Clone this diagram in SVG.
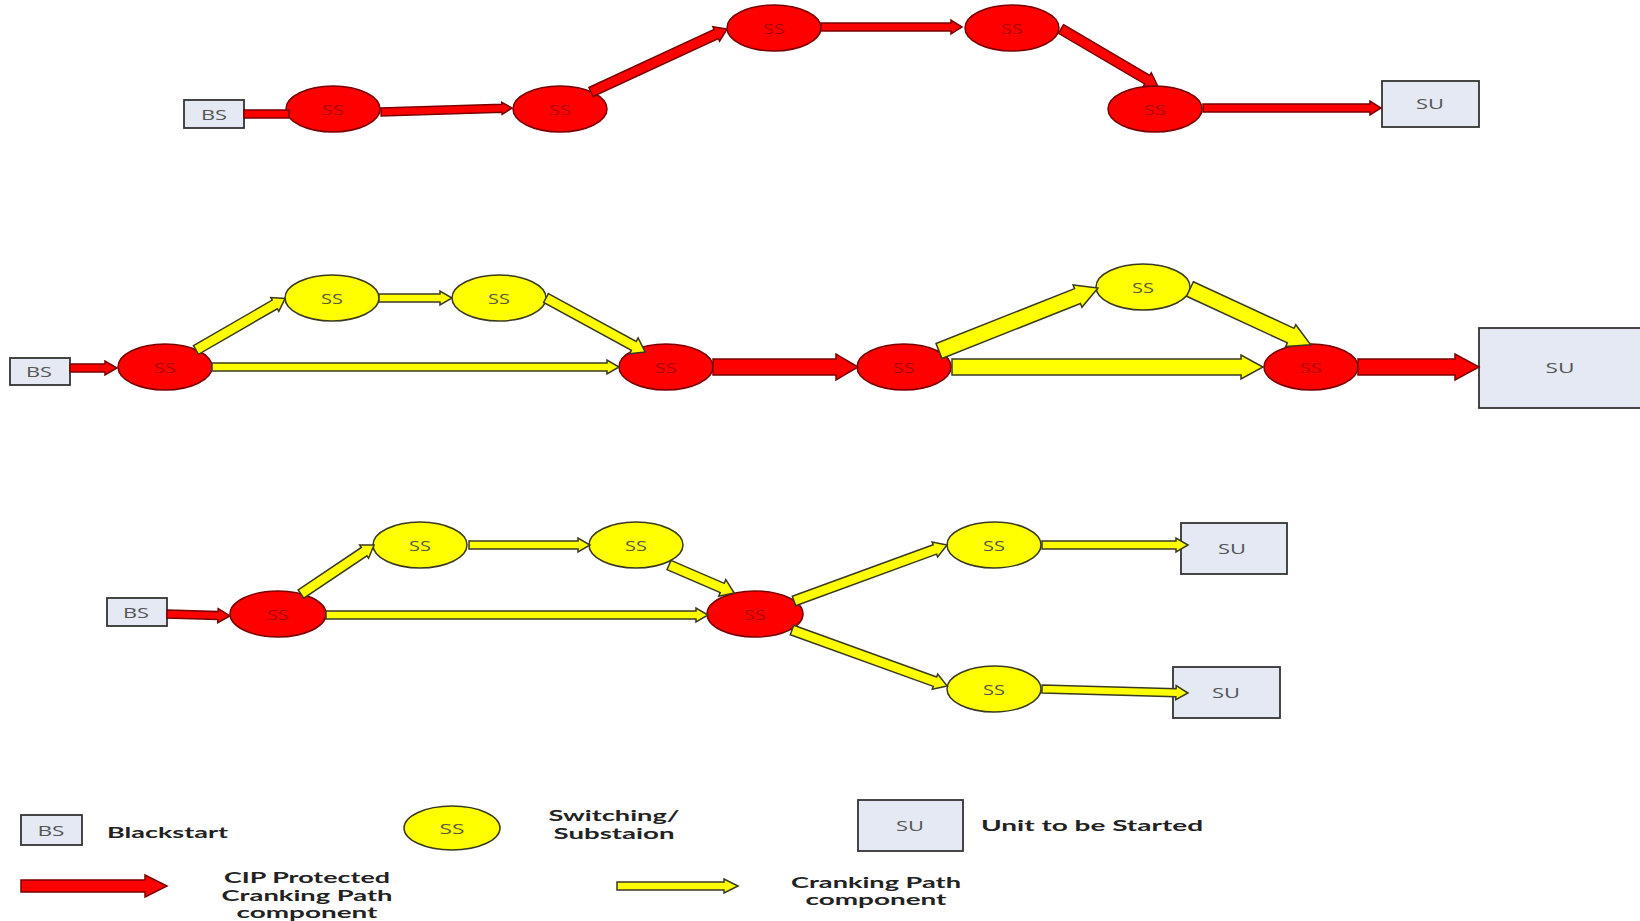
<svg xmlns="http://www.w3.org/2000/svg" width="1640" height="921" viewBox="0 0 1640 921">
  <style>
    .red { fill: #ff0000; stroke: #7a0000; stroke-width: 1.5; }
    .yel { fill: #ffff00; stroke: #3a3a20; stroke-width: 1.5; }
    .box { fill: #e4e9f3; stroke: #333333; stroke-width: 1.8; }
    .lbl { font-family: "Open Sans", "Liberation Sans", sans-serif; font-size: 15px; text-anchor: middle; dominant-baseline: central; }
    .lr { fill: #b00000; }
    .ly { fill: #5a5a3c; }
    .lb { fill: #555555; }
    .leg { font-family: Lato, "Liberation Sans", sans-serif; font-weight: bold; font-size: 16px; fill: #222222; }
    .mid { text-anchor: middle; }
  </style>

  <!-- top path nodes -->
  <g id="t-bs"><rect class="box" x="184" y="100" width="60" height="28"/><text class="lbl lb" x="214" y="114" textLength="26" lengthAdjust="spacingAndGlyphs">BS</text></g>
  <g id="t-ss1"><ellipse class="red" cx="333" cy="109" rx="47" ry="23"/><text class="lbl lr" x="333" y="109" textLength="22" lengthAdjust="spacingAndGlyphs">SS</text></g>
  <g id="t-ss2"><ellipse class="red" cx="560" cy="109" rx="47" ry="23"/><text class="lbl lr" x="560" y="109" textLength="22" lengthAdjust="spacingAndGlyphs">SS</text></g>
  <g id="t-ss3"><ellipse class="red" cx="774" cy="28" rx="47" ry="23"/><text class="lbl lr" x="774" y="28" textLength="22" lengthAdjust="spacingAndGlyphs">SS</text></g>
  <g id="t-ss4"><ellipse class="red" cx="1012" cy="28" rx="47" ry="23"/><text class="lbl lr" x="1012" y="28" textLength="22" lengthAdjust="spacingAndGlyphs">SS</text></g>
  <g id="t-ss5"><ellipse class="red" cx="1155" cy="109" rx="47" ry="23"/><text class="lbl lr" x="1155" y="109" textLength="22" lengthAdjust="spacingAndGlyphs">SS</text></g>
  <g id="t-su"><rect class="box" x="1382" y="81" width="97" height="46"/><text class="lbl lb" x="1430" y="103" textLength="28" lengthAdjust="spacingAndGlyphs">SU</text></g>

  <!-- middle path nodes -->
  <g id="m-bs"><rect class="box" x="10" y="358" width="60" height="27"/><text class="lbl lb" x="39" y="371" textLength="26" lengthAdjust="spacingAndGlyphs">BS</text></g>
  <g id="m-ss1"><ellipse class="red" cx="165" cy="367" rx="47" ry="23"/><text class="lbl lr" x="165" y="367" textLength="22" lengthAdjust="spacingAndGlyphs">SS</text></g>
  <g id="m-ss2"><ellipse class="yel" cx="332" cy="298" rx="47" ry="23"/><text class="lbl ly" x="332" y="298" textLength="22" lengthAdjust="spacingAndGlyphs">SS</text></g>
  <g id="m-ss3"><ellipse class="yel" cx="499" cy="298" rx="47" ry="23"/><text class="lbl ly" x="499" y="298" textLength="22" lengthAdjust="spacingAndGlyphs">SS</text></g>
  <g id="m-ss4"><ellipse class="red" cx="666" cy="367" rx="47" ry="23"/><text class="lbl lr" x="666" y="367" textLength="22" lengthAdjust="spacingAndGlyphs">SS</text></g>
  <g id="m-ss5"><ellipse class="red" cx="904" cy="367" rx="47" ry="23"/><text class="lbl lr" x="904" y="367" textLength="22" lengthAdjust="spacingAndGlyphs">SS</text></g>
  <g id="m-ss6"><ellipse class="yel" cx="1143" cy="287" rx="47" ry="23"/><text class="lbl ly" x="1143" y="287" textLength="22" lengthAdjust="spacingAndGlyphs">SS</text></g>
  <g id="m-ss7"><ellipse class="red" cx="1311" cy="367" rx="47" ry="23"/><text class="lbl lr" x="1311" y="367" textLength="22" lengthAdjust="spacingAndGlyphs">SS</text></g>
  <g id="m-su"><rect class="box" x="1479" y="328" width="165" height="80"/><text class="lbl lb" x="1560" y="367" textLength="29" lengthAdjust="spacingAndGlyphs">SU</text></g>

  <!-- bottom path nodes -->
  <g id="b-bs"><rect class="box" x="107" y="598" width="60" height="28"/><text class="lbl lb" x="136" y="612" textLength="26" lengthAdjust="spacingAndGlyphs">BS</text></g>
  <g id="b-ss1"><ellipse class="red" cx="278" cy="614" rx="48" ry="23"/><text class="lbl lr" x="278" y="614" textLength="22" lengthAdjust="spacingAndGlyphs">SS</text></g>
  <g id="b-ss2"><ellipse class="yel" cx="420" cy="545" rx="47" ry="23"/><text class="lbl ly" x="420" y="545" textLength="22" lengthAdjust="spacingAndGlyphs">SS</text></g>
  <g id="b-ss3"><ellipse class="yel" cx="636" cy="545" rx="47" ry="23"/><text class="lbl ly" x="636" y="545" textLength="22" lengthAdjust="spacingAndGlyphs">SS</text></g>
  <g id="b-ss4"><ellipse class="red" cx="755" cy="614" rx="48" ry="23"/><text class="lbl lr" x="755" y="614" textLength="22" lengthAdjust="spacingAndGlyphs">SS</text></g>
  <g id="b-ss5"><ellipse class="yel" cx="994" cy="545" rx="47" ry="23"/><text class="lbl ly" x="994" y="545" textLength="22" lengthAdjust="spacingAndGlyphs">SS</text></g>
  <g id="b-ss6"><ellipse class="yel" cx="994" cy="689" rx="47" ry="23"/><text class="lbl ly" x="994" y="689" textLength="22" lengthAdjust="spacingAndGlyphs">SS</text></g>
  <g id="b-su1"><rect class="box" x="1181" y="523" width="106" height="51"/><text class="lbl lb" x="1232" y="548" textLength="28" lengthAdjust="spacingAndGlyphs">SU</text></g>
  <g id="b-su2"><rect class="box" x="1173" y="667" width="107" height="51"/><text class="lbl lb" x="1226" y="692" textLength="28" lengthAdjust="spacingAndGlyphs">SU</text></g>

  <!-- connectors: block arrows drawn along +x, then placed with translate/rotate -->
  <g id="connectors">
    <!-- top path -->
    <path class="red" d="M244,110H289V118H244Z"/>
    <path class="red" transform="translate(381,112) rotate(-1.75)" d="M0,-4H121V-6L131,0L121,6V4H0Z"/>
    <path class="red" transform="translate(591,92) rotate(-24.85)" d="M0,-5H138V-8L150,0L138,8V5H0Z"/>
    <path class="red" transform="translate(821,27)" d="M0,-4H130V-7L141,0L130,7V4H0Z"/>
    <path class="red" transform="translate(1061,29) rotate(30.44)" d="M0,-5H100V-8L112,0L100,8V5H0Z"/>
    <path class="red" transform="translate(1203,108)" d="M0,-4H167V-7L178,0L167,7V4H0Z"/>

    <!-- middle path -->
    <path class="red" transform="translate(70,368)" d="M0,-4H35V-7L47,0L35,7V4H0Z"/>
    <path class="yel" transform="translate(212,367)" d="M0,-4H395V-7L407,0L395,7V4H0Z"/>
    <path class="yel" transform="translate(196,350) rotate(-30.06)" d="M0,-5H91V-8L103,0L91,8V5H0Z"/>
    <path class="yel" transform="translate(379,298)" d="M0,-4H61V-7L73,0L61,7V4H0Z"/>
    <path class="yel" transform="translate(546,298) rotate(28.61)" d="M0,-5H100V-9L113,0L100,9V5H0Z"/>
    <path class="red" transform="translate(713,367)" d="M0,-8H123V-13L145,0L123,13V8H0Z"/>
    <path class="yel" transform="translate(939,351) rotate(-21.63)" d="M0,-8H149V-12L171,0L149,12V8H0Z"/>
    <path class="yel" transform="translate(952,367)" d="M0,-8H289V-12L311,0L289,12V8H0Z"/>
    <path class="yel" transform="translate(1190,289) rotate(24.83)" d="M0,-8H111V-12L133,0L111,12V8H0Z"/>
    <path class="red" transform="translate(1358,367)" d="M0,-8H97V-13L121,0L97,13V8H0Z"/>

    <!-- bottom path -->
    <path class="red" transform="translate(167,614) rotate(1.8)" d="M0,-4H51V-7L63,0L51,7V4H0Z"/>
    <path class="yel" transform="translate(326,615)" d="M0,-4H370V-7L382,0L370,7V4H0Z"/>
    <path class="yel" transform="translate(301,594) rotate(-33.87)" d="M0,-5H76V-8L88,0L76,8V5H0Z"/>
    <path class="yel" transform="translate(469,545)" d="M0,-4H109V-7L121,0L109,7V4H0Z"/>
    <path class="yel" transform="translate(669,565) rotate(23.3)" d="M0,-5H58V-9L71,0L58,9V5H0Z"/>
    <path class="yel" transform="translate(794,601) rotate(-20.1)" d="M0,-5H150V-8L163,0L150,8V5H0Z"/>
    <path class="yel" transform="translate(792,630) rotate(19.86)" d="M0,-5H152V-8L165,0L152,8V5H0Z"/>
    <path class="yel" transform="translate(1042,545)" d="M0,-4H134V-7L146,0L134,7V4H0Z"/>
    <path class="yel" transform="translate(1042,689) rotate(1.58)" d="M0,-4H134V-7L146,0L134,7V4H0Z"/>
  </g>

  <!-- key -->
  <g id="legend">
    <rect class="box" x="21" y="815" width="61" height="30"/><text class="lbl lb" x="51" y="830" textLength="27" lengthAdjust="spacingAndGlyphs">BS</text>
    <text class="leg" x="107" y="838" textLength="121" lengthAdjust="spacingAndGlyphs">Blackstart</text>

    <ellipse class="yel" cx="452" cy="828" rx="48" ry="22"/><text class="lbl ly" x="452" y="828" textLength="25" lengthAdjust="spacingAndGlyphs">SS</text>
    <text class="leg mid" x="614" y="821" textLength="131" lengthAdjust="spacingAndGlyphs">Switching/</text>
    <text class="leg mid" x="614" y="839" textLength="121" lengthAdjust="spacingAndGlyphs">Substaion</text>

    <rect class="box" x="858" y="800" width="105" height="51"/><text class="lbl lb" x="910" y="825" textLength="28" lengthAdjust="spacingAndGlyphs">SU</text>
    <text class="leg" x="981" y="831" textLength="222" lengthAdjust="spacingAndGlyphs">Unit to be Started</text>

    <path class="red" transform="translate(21,886)" d="M0,-6H124V-11L146,0L124,11V6H0Z"/>
    <text class="leg mid" x="307" y="883" textLength="166" lengthAdjust="spacingAndGlyphs">CIP Protected</text>
    <text class="leg mid" x="307" y="901" textLength="171" lengthAdjust="spacingAndGlyphs">Cranking Path</text>
    <text class="leg mid" x="307" y="918" textLength="141" lengthAdjust="spacingAndGlyphs">component</text>

    <path class="yel" transform="translate(617,886)" d="M0,-4H107V-7L121,0L107,7V4H0Z"/>
    <text class="leg mid" x="876" y="888" textLength="170" lengthAdjust="spacingAndGlyphs">Cranking Path</text>
    <text class="leg mid" x="876" y="905" textLength="141" lengthAdjust="spacingAndGlyphs">component</text>
  </g>
</svg>
